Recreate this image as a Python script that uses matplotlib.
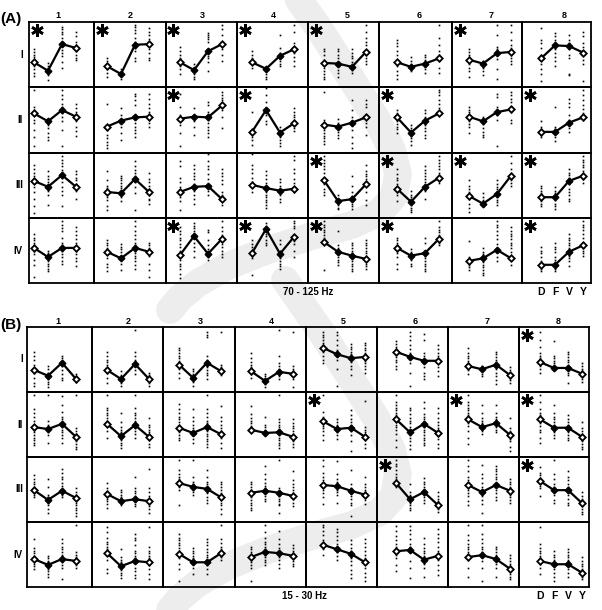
import matplotlib
matplotlib.use('Agg')
import matplotlib.pyplot as plt

W, H = 602, 610
plt.rcParams['font.family'] = ['Liberation Sans', 'DejaVu Sans']

conditions = ['D', 'F', 'V', 'Y']
col_labels = ['1', '2', '3', '4', '5', '6', '7', '8']
row_labels = ['I', 'II', 'III', 'IV']

# mean values per cell (percent of cell height), rows I-IV x columns 1-8 x D F V Y
means_a = [
    [[38, 25, 66, 60], [32, 20, 65, 66], [38, 26, 55, 66], [38, 28, 48, 58],
     [37, 36, 31, 54], [38, 31, 36, 44], [42, 36, 52, 54], [44, 64, 63, 53]],
    [[60, 48, 65, 55], [40, 49, 54, 55], [52, 55, 54, 72], [32, 65, 31, 45],
     [43, 40, 46, 54], [54, 31, 49, 60], [55, 48, 62, 66], [32, 32, 46, 54]],
    [[57, 48, 66, 48], [40, 38, 60, 40], [40, 48, 49, 29], [51, 46, 42, 45],
     [58, 26, 29, 52], [45, 25, 48, 62], [34, 22, 37, 65], [32, 32, 57, 65]],
    [[54, 40, 54, 54], [48, 38, 54, 48], [43, 72, 45, 68], [46, 83, 45, 71],
     [63, 48, 42, 37], [54, 42, 46, 68], [34, 38, 51, 38], [28, 28, 48, 58]],
]
means_b = [
    [[34, 25, 45, 20], [34, 20, 43, 20], [42, 22, 45, 32], [32, 17, 31, 28],
     [68, 58, 52, 54], [62, 54, 48, 48], [40, 35, 42, 26], [46, 37, 37, 28]],
    [[46, 43, 51, 31], [51, 32, 49, 31], [45, 37, 46, 35], [42, 37, 38, 31],
     [55, 43, 45, 31], [58, 38, 51, 37], [58, 46, 52, 34], [58, 45, 45, 31]],
    [[49, 34, 48, 37], [43, 32, 35, 32], [60, 54, 51, 38], [45, 48, 45, 40],
     [57, 55, 48, 42], [60, 35, 46, 26], [57, 46, 57, 48], [63, 49, 49, 29]],
    [[43, 34, 43, 40], [52, 32, 40, 38], [51, 38, 38, 52], [46, 54, 52, 48],
     [65, 58, 51, 38], [55, 57, 42, 48], [46, 49, 43, 28], [40, 35, 35, 22]],
]

stars_a = [[1, 1, 1, 1, 1, 0, 1, 0],
           [0, 0, 1, 1, 0, 1, 0, 1],
           [0, 0, 0, 0, 1, 1, 1, 1],
           [0, 0, 1, 1, 1, 1, 0, 1]]
stars_b = [[0, 0, 0, 0, 0, 0, 0, 1],
           [0, 0, 0, 0, 1, 0, 1, 1],
           [0, 0, 0, 0, 0, 1, 0, 1],
           [0, 0, 0, 0, 0, 0, 0, 0]]

# individual values per cell: "D|F|V|Y", percent of cell height
dots_a = [
    ["58 54 50 46 42 32 27 22 17|37 32 22 18 11|93 89 85 82 75 70 57 52 47 39 29|85 78 70 65 55 50 45 41",
     "45 40 36 28 22 16|28 22 18 12|96 92 88 83 75 70 60 55 45 40|91 85 80 74 65 58 52 45 42",
     "62 55 50 44 38 32 28 20|36 30 25 20 15 12|83 80 77 74 70 58 52 48 44 38 24|96 90 80 70 58 50 40",
     "55 50 45 40 35 30|30 25 20 15 12|80 60 52 48 44 40 36 32|96 84 68 60 52 46 40 33",
     "58 55 50 42 36 30 25 20 15 12|58 55 50 44 38 32 26 21 16|58 52 48 44 38 31 26 22|96 85 75 70 65 56 50 45 40 36",
     "73 68 63 55 50 40 32 25 18 12|46 40 35 30 25|50 46 42 38 32 27 22|96 75 65 55 50 40 30 22",
     "58 54 50 46 40 35 30 25 15|40 35 30 24 18|96 80 62 58 54 50 43 27 12|96 85 72 65 60 55 50 45 40 36",
     "91 72 67 60 50 42 35 27 20 10|83 78 72 62 58 52 46 40 32|80 72 68 62 58 50 45 20 18|85 78 68 62 50 42 35 10"],
    ["95 70 65 58 50 46 35 25 10|50 42 38 30 25 20|95 88 82 75 70 60 55 48 35 10|75 68 62 52 48 40 34 26",
     "75 35 28 22 16 12 8|68 58 48 40 30 20|90 86 80 72 58 52 46 40 35 30 25|90 82 75 68 62 50 45 40",
     "90 70 58 48 42 30 10|68 58 52 48 40 28|78 72 62 55 50 45 40 35 30 25|92 88 84 80 76 72 65 55 38",
     "62 30 25 20 12|98 88 78 68 62 58 48 44|40 28 24 20 15 10|68 62 58 54 50 46 42 38 34",
     "92 50 45 40 35 30 26 22 18 14|52 46 42 38 32 28 22|80 65 55 48 42 35 25 15 8|80 75 70 58 52 46 40 28",
     "65 60 58 52 48 44 40 36 30|43 38 34 30 26 22 18 12|65 60 55 48 42 38 34 28 22|96 92 88 80 74 68 62 58",
     "70 65 62 58 52 48 44 40 30|55 48 44 38 32 28 24|90 85 70 65 58 50 10|92 88 82 78 70 62 50 45",
     "48 40 36 32 28 24|70 40 36 30 24 18|82 76 70 58 50 44 38 32|96 88 80 72 66 60 56 50"],
    ["82 75 70 65 60 54 48 40 30 18 8|72 65 60 55 50 42 36 20|95 90 85 80 74 70 62 55 48 42 35 18|72 68 62 58 52 42 30",
     "72 58 50 46 40 32 28 18 12|65 62 58 54 50 46 40 32 26|88 80 74 70 64 55 48 38 12|70 60 55 50 45 40 35 30 28 22",
     "88 80 62 55 48 42 38 32 26 12|82 75 70 65 60 52 42 36 30 22|98 88 80 75 68 60 48 42 36|75 70 65 58 52 40 35 30 28 20",
     "98 82 75 70 62 55 48 40|72 66 60 54 48 44 40 36 32 28 24 20 15|60 55 50 45 40 35 30 25|96 90 75 70 60 54 48 40",
     "96 90 85 80 75 70 52 45 40 36|35 30 28 24 20 16 14|65 50 40 34 30 26 22 18 14|82 72 68 64 60 55 50 40 28 20",
     "75 68 62 58 52 48 40 35 26|42 36 32 28 24 20 16 12 10|80 74 70 65 60 55 50 42 30|96 90 84 80 76 70 64 60 58 54",
     "58 50 45 40 35 30 22 15 10|38 32 28 24 20|58 52 48 44 40 36 32 28 24 20|96 85 75 70 65 62 58 54 50",
     "50 46 42 38 34 30 26 22 18|48 42 38 28 22 18 14|75 70 66 62 58 52 45 40 36 30 26|96 90 86 82 78 72 66 60 54"],
    ["76 70 66 62 58 50 44 36 28 10|50 46 42 38 34 30 26 22 18|96 90 84 80 70 62 58 50 44 40 34 30|86 80 74 68 62 56 50 44 38 34 26",
     "66 62 58 54 50 44 38 30 24 18|60 56 52 48 42 38 30 20|96 88 80 74 68 62 58 54 50 46 42 38 34 28 22|62 58 54 50 46 42 30 20 10",
     "86 80 76 70 66 60 56 50 46 40 36 30 26 22 14 8|92 88 84 80 76 70 62 56 50 40|82 78 66 58 52 48 44 40 36|96 86 80 74 70 64 60 56 50 45 40",
     "66 60 56 50 42 38 12|92 88 84 80 76 72 66 62 58|66 60 50 46 42 38 34 30 26 22|96 92 88 84 74 70 64 60 50 40",
     "96 90 86 82 78 74 70 66 62 20|80 58 54 50 44 40 36 32 28|62 58 54 50 46 42 38 34 30 26 22 18|66 62 58 54 50 46 42 38 34 30 26 22",
     "70 66 62 58 54 50 46 40 30 22|52 48 44 40 36 30 26|70 62 46 42 38 34 30 26 22 18|96 86 82 78 74 70 66 62 58",
     "64 40 36 32 28 24 20|54 48 44 38 32 28 24 20 16 12|96 90 86 80 74 68 60 50 40 34|86 80 76 72 68 62 58 54 48 40 36 28",
     "56 50 46 40 34 30 26 22 18|62 56 52 48 40 36 30 26 22 18|76 70 66 62 58 54 50 46 42 38 34 26|96 90 86 82 76 70 62 58 54 50 46 42"],
]
dots_b = [
    ["62 56 50 42 36 30 22 14 10|40 35 30 25 20 16 12 8|56 52 48 44 40 34 28 22 18|28 24 20 16",
     "62 56 50 46 42 36 30 22 14|32 26 22 18 14 10|96 62 56 50 46 40 34 28|30 26 22 18 14 10",
     "68 64 60 56 52 48 44 40 36 30 22|36 32 28 24 20 16 10|92 88 84 56 50 44 38 34 30 26 20|92 42 38 34 30 26",
     "60 52 46 42 38 34 28 22|28 24 20 16 12 8|96 56 44 40 36 32 28 24 20|92 40 36 32 28 24 20 8",
     "92 88 84 80 76 72 68 62 56 50 44|92 88 80 72 64 60 56 50 36 10|74 70 66 62 58 54 50 46 40 36 26|76 72 68 64 60 56 52 48 44 40 36 30",
     "78 74 70 66 62 58 54 50 46 40 36|92 86 80 72 66 60 56 52 44 30 10|90 80 60 56 50 44 38 30 24 20|72 66 60 56 50 44 38 32 24",
     "68 60 56 52 48 44 40 34 28|40 36 32 28 24|62 58 54 50 46 40 36 30 24 18 12|38 34 30 26 22 18 14",
     "92 80 70 60 56 52 48 44 40 36 30|78 56 52 48 44 40 36|62 58 54 50 46 42 38 34 30 26 14|44 40 36 32 28 24 20 16"],
    ["96 74 68 62 56 50 46 42 38 34 30 26 22 18|96 56 50 46 42 38 34 22|94 80 70 62 58 54 50 46 42 38 34 30 22|96 44 40 36 32 28 24 20 16 12",
     "96 76 72 68 64 60 56 52 48 40 30|68 54 46 42 38 34 30 26 22 18 14|96 76 68 64 60 56 52 48 44 40 36 30|60 50 46 42 38 34 30 26 20 16",
     "82 74 68 62 58 54 50 46 42 38 34 30 26|74 62 56 50 44 40 36 28 22|96 74 68 62 56 52 48 44 40 36 32 28 24 20 16|78 62 56 50 44 40 36 30 22 14",
     "78 66 60 56 52 48 44 40|62 50 46 42 38 34|96 58 54 50 46 42 38 34 30 26 22 18 14|58 52 48 44 40 36 32 28 24 20 16",
     "96 70 62 56 52 48 44 40 34 26|58 54 50 46 42 38 34 28|72 64 58 54 50 44 40 34 24 10|86 46 42 38 34 30 26 20 14",
     "96 84 80 76 72 68 64 58 54 50 46 42 36 26 16|76 72 66 60 56 52 46 42 38 34 30 24 18 12|84 76 66 62 58 54 50 46 42 38 34 30 26 22 18|76 68 60 54 50 44 38 32 28 20 14",
     "96 84 80 76 72 68 64 60 56 52 48 40 30 20|80 68 60 56 52 48 44 40 36|80 68 62 58 54 50 46 42 38|60 44 40 36 32 28 24 16 10",
     "96 84 74 68 64 60 56 52 48 42 38 30 22|80 68 62 58 54 50 46 42 38 34 30|64 58 54 50 46 42 38 34 30 26|54 44 40 36 32 28 24 20 16 12"],
    ["72 66 62 58 54 50 46 42 38|66 54 42 38 34 30 26 20 14|82 76 70 66 60 56 50 46 42 38|52 46 42 38 34 30 26 22 18 14 10",
     "60 52 48 44 40 36 32 28 22|50 46 42 38 34 30 26|70 52 48 44 40 36 32 28 24|82 52 46 40 36 32 28 24 20 14",
     "96 80 74 70 66 62 58 54 50 26|96 70 62 58 54 50 46 42|80 70 62 58 54 50 44 38 34 30|62 58 54 50 44 38 34 30 26 20 12",
     "62 58 54 50 46 42 38 34 30 26 22 18|86 74 66 60 56 52 48 44 40 36 32|96 52 48 44 40 36 32 28 26 14|78 64 58 54 50 44 40 36 30 24",
     "96 86 76 70 64 58 54 50 44 38 28|94 74 66 62 58 54 50 46 42 30|80 58 52 48 44 40 36 30 26 10|70 58 54 50 46 42 38 34 28",
     "96 90 86 80 74 70 66 62 58 54|58 46 42 38 34 30 26 22 18|68 62 58 54 50 46 42 38 34 30|46 40 36 32 28 24 20 16",
     "96 86 78 70 64 60 56 50 44 40 32 26|88 74 68 60 54 50 46 40 34 28 14|86 82 78 74 70 66 60 56 50 44 38 34|66 62 58 54 50 46 42 38 34 30",
     "84 76 72 68 64 60 56 52 40|96 74 66 58 54 50 46 42 34 30|78 70 64 58 54 50 46 42 36 30 26|46 40 36 32 28 24 20 16 12"],
    ["74 60 56 52 48 44 40 36 32 28|48 44 40 36 32 28 24 20 16|74 68 62 58 54 50 46 42 38 34 30 12|96 54 50 46 42 38 34 30",
     "92 84 76 70 66 62 58 54 50 42 28 22|58 46 42 38 34 30 26 22 18 14|82 76 72 64 56 52 48 44 40 30 24 18 14|92 62 56 52 48 44 40 34 28 20 12",
     "82 76 72 68 64 60 56 52 44 36 28 10|60 56 52 48 44 40 36 30 20|74 70 64 58 54 50 46 42 34 28 20|96 74 68 62 58 54 50 46 42",
     "62 58 54 50 46 42 38 34 30 10|96 84 76 70 66 62 58 54 50 46 42 38 34|86 74 66 60 56 52 46 42 36 30|64 60 56 52 48 44 40 36 32",
     "96 92 86 80 72 64 58 50|90 84 78 72 66 62 58 54 48 42|72 66 60 56 52 48 44 40 34 26 20 14|74 68 62 56 50 44 38 30 22 16 10",
     "94 86 78 72 66 62 58 54 50 44 34 24|94 88 82 74 66 62 58 56 40 30 14|76 66 60 56 52 48 44 40 36 30 16|90 82 76 70 62 56 50 42 34 26 18",
     "96 80 72 66 62 58 54 50 46 42 30 16|96 82 74 68 62 58 54 50 46 40 30 10|62 58 54 50 46 42 36 30 16|50 44 40 36 32 28 24 20 16 12",
     "92 66 60 56 52 48 44 40 36 30 20|56 50 46 42 38 34 28 22 16 10|58 54 50 46 42 38 34 28 22 16|46 40 36 32 28 24 20 16 12"],
]

# layout in pixels (top-left origin)
layout_a = dict(x_edges=[29, 94, 166, 237, 308, 379, 452, 522, 591],
                y_edges=[22, 87, 153, 218, 283],
                x_start=[34, 107, 180, 252, 324, 397, 469, 541],
                col_x=[58, 130, 202, 273, 347, 419, 491, 564], col_y=15,
                tag='(A)', tag_y=19, band='70 - 125 Hz', band_x=308, foot_y=292)
layout_b = dict(x_edges=[27, 92, 163, 235, 306, 377, 448, 519, 589],
                y_edges=[327, 392, 457, 522, 587],
                x_start=[34, 107, 179, 251, 323, 396, 468, 540],
                col_x=[58, 128, 200, 271, 343, 415, 487, 558], col_y=322,
                tag='(B)', tag_y=325, band='15 - 30 Hz', band_x=305, foot_y=596)
STEP = 14.0

fig = plt.figure(figsize=(W / 100, H / 100), dpi=100)

# light grey watermark swoosh behind both panels
bg = fig.add_axes([0, 0, 1, 1], zorder=0)
bg.set_xlim(0, W)
bg.set_ylim(H, 0)
bg.axis('off')
swoosh_x = [285, 320, 352, 376, 392, 398, 394, 380, 352, 312, 268, 228, 198, 180, 170]
swoosh_y = [-20, 30, 80, 118, 150, 174, 196, 212, 225, 236, 250, 266, 283, 298, 310]
for dy in (0, 300):
    bg.plot(swoosh_x, [y + dy for y in swoosh_y], color='#ededed', lw=20,
            solid_capstyle='round', solid_joinstyle='round')


def fx(x):
    return x / W


def fy(y):
    return 1 - y / H


def draw_panel(means, stars, dots, lay):
    xe, ye = lay['x_edges'], lay['y_edges']
    for r in range(4):
        for c in range(8):
            x0, x1 = xe[c], xe[c + 1]
            y0, y1 = ye[r], ye[r + 1]
            ax = fig.add_axes([fx(x0), fy(y1), (x1 - x0) / W, (y1 - y0) / H], zorder=2)
            ax.set_facecolor('none')
            s = lay['x_start'][c]
            ax.set_xlim((x0 - s) / STEP, (x1 - s) / STEP)
            ax.set_ylim(0, 100)
            ax.set_xticks([])
            ax.set_yticks([])
            for sp in ax.spines.values():
                sp.set_linewidth(1.3)
            for i, grp in enumerate(dots[r][c].split('|')):
                vals = [float(v) for v in grp.split()]
                ax.plot([i] * len(vals), vals, 's', ms=1.2, mew=0, color='black')
            m = means[r][c]
            ax.plot(range(4), m, '-', color='black', lw=1.6)
            ax.plot([1, 2], [m[1], m[2]], 'D', ms=3.4, mfc='black', mec='black')
            ax.plot([0, 3], [m[0], m[3]], 'D', ms=3.3, mfc='white', mec='black', mew=1.3)
            if stars[r][c]:
                ax.plot(7.5 / (x1 - x0), 1 - 7.5 / (y1 - y0), marker=(6, 2, 0), ms=9,
                        mew=1.9, color='black', transform=ax.transAxes, clip_on=False)
    for c in range(8):
        fig.text(fx(lay['col_x'][c]), fy(lay['col_y']), col_labels[c],
                 ha='center', va='center', fontsize=6.5, fontweight='bold')
    for r in range(4):
        fig.text(fx(23), fy((ye[r] + ye[r + 1]) / 2), row_labels[r],
                 ha='right', va='center', fontsize=7, fontweight='bold')
    fig.text(fx(0), fy(lay['tag_y']), lay['tag'], ha='left', va='center',
             fontsize=11, fontweight='bold')
    fig.text(fx(lay['band_x']), fy(lay['foot_y']), lay['band'], ha='center',
             va='center', fontsize=7, fontweight='bold')
    for i, cond in enumerate(conditions):
        fig.text(fx(lay['x_start'][7] + STEP * i), fy(lay['foot_y']), cond,
                 ha='center', va='center', fontsize=7.5, fontweight='bold')


draw_panel(means_a, stars_a, dots_a, layout_a)
draw_panel(means_b, stars_b, dots_b, layout_b)

fig.savefig('out.png', dpi=100)
